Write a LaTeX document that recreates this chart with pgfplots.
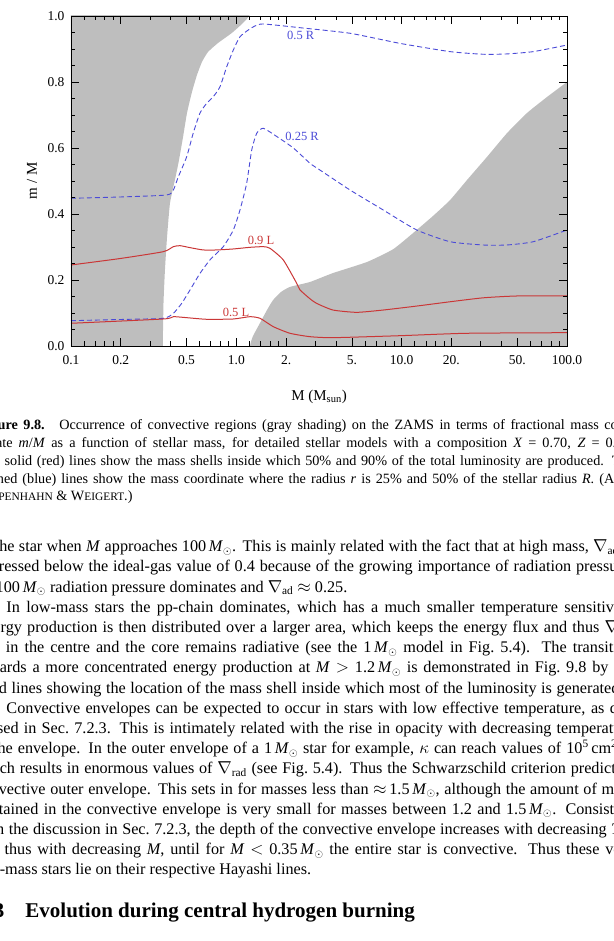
\documentclass[border=0pt]{standalone}
\usepackage{fontspec}
\setmainfont{Liberation Serif}
\usepackage{pgfplots}
\pgfplotsset{compat=1.18}
\definecolor{cgray}{RGB}{190,190,190}
\definecolor{cred}{RGB}{202,55,55}
\definecolor{cblue}{RGB}{75,75,215}
\newcommand{\Msun}{\textit{M}$_{\odot}$}
\newcommand{\fsc}[1]{{\fontsize{11.4}{12}\selectfont #1}}
\newcommand{\Lm}{-24.5}
\newcommand{\Wd}{658.5pt}
\newcommand{\bl}[2]{\node[anchor=base west,inner sep=0pt,outer sep=0pt,font=\fontsize{16.2}{20}\selectfont] at (\Lm,{941-#1}) {\makebox[\Wd][s]{#2}};}
\newcommand{\bn}[2]{\node[anchor=base west,inner sep=0pt,outer sep=0pt,font=\fontsize{16.2}{20}\selectfont] at (\Lm,{941-#1}) {#2};}
\newcommand{\cl}[2]{\node[anchor=base west,inner sep=0pt,outer sep=0pt,font=\fontsize{14.2}{17}\selectfont] at (-22,{941-#1}) {\makebox[656pt][s]{#2}};}
\newcommand{\cn}[2]{\node[anchor=base west,inner sep=0pt,outer sep=0pt,font=\fontsize{14.2}{17}\selectfont] at (-22,{941-#1}) {#2};}
\begin{document}
\begin{tikzpicture}[x=1pt,y=1pt]
\useasboundingbox (0,0) rectangle (613,941);
\clip (0,0) rectangle (613,941);
\begin{axis}[
  at={(71pt,595pt)}, anchor=south west,
  width=496pt, height=330pt, scale only axis,
  xmode=log, xmin=0.1, xmax=100, ymin=0, ymax=1,
  axis on top,
  xtick={0.1,0.2,0.5,1,2,5,10,20,50,100},
  xticklabels={0.1,0.2,0.5,1.0,2.,5.,10.0,20.,50.,100.0},
  minor xtick={0.12,0.14,0.16,0.18,0.3,0.4,0.6,0.7,0.8,0.9,1.2,1.4,1.6,1.8,3,4,6,7,8,9,12,14,16,18,30,40,60,70,80,90},
  ytick={0,0.2,0.4,0.6,0.8,1.0},
  yticklabels={0.0,0.2,0.4,0.6,0.8,1.0},
  minor y tick num=3,
  tick align=inside,
  major tick length=8pt, minor tick length=4.5pt,
  every tick/.style={black, line width=0.6pt},
  axis line style={line width=0.8pt},
  ticklabel style={font=\fontsize{13.5}{14}\selectfont},
  xticklabel style={yshift=-6pt},
  yticklabel style={xshift=-3pt},
]
\addplot[fill=cgray, draw=none, smooth, tension=0.3] coordinates {
(0.05,-0.1) (0.05,1.1) (1.35,1.1) (1.193,1) (0.955,0.9515) (0.7745,0.918) (0.674,0.891) (0.620,0.861) (0.578,0.8212) (0.539,0.7697) (0.503,0.706) (0.476,0.633) (0.450,0.5636) (0.429,0.512) (0.397,0.433) (0.381,0.330) (0.370,0.230) (0.3626,0.130) (0.359,0) (0.357,-0.1)
} -- cycle;
\addplot[fill=cgray, draw=none, smooth, tension=0.3] coordinates {
(1.17,-0.1) (1.21,0) (1.262,0.0303) (1.391,0.0697) (1.533,0.109) (1.667,0.139) (1.863,0.1636) (2.111,0.179) (2.790,0.194) (3.843,0.221) (6.172,0.2545) (8.864,0.293) (11.71,0.342) (15.47,0.394) (19.61,0.442) (24.85,0.503) (32.82,0.573) (43.36,0.645) (57.30,0.706) (75.70,0.7545) (100,0.8) (130,0.84) (200,0.9) (200,-0.1)
} -- cycle;
\addplot[cblue, line width=0.9pt, dash pattern=on 5pt off 3pt, smooth, tension=0.35] coordinates {
(0.1,0.4476) (0.198,0.4515) (0.379,0.4576) (0.416,0.4727) (0.446,0.513) (0.501,0.5736) (0.549,0.6455) (0.603,0.706) (0.662,0.7355) (0.726,0.7555) (0.797,0.7858) (0.875,0.8464) (0.959,0.897) (1.052,0.937) (1.182,0.9576) (1.297,0.9697) (1.456,0.9758) (2.427,0.9645) (4.871,0.9476) (9.77,0.917) (19.61,0.892) (31.17,0.884) (43.18,0.885) (62.57,0.892) (100,0.912)
};
\addplot[cblue, line width=0.9pt, dash pattern=on 5pt off 3pt, smooth, tension=0.35] coordinates {
(0.1,0.0767) (0.198,0.0803) (0.3615,0.0839) (0.416,0.099) (0.467,0.129) (0.525,0.170) (0.603,0.220) (0.693,0.261) (0.834,0.301) (0.959,0.3515) (1.052,0.412) (1.155,0.493) (1.239,0.594) (1.328,0.6445) (1.456,0.6597) (1.754,0.635) (2.212,0.600) (2.790,0.5536) (3.207,0.533) (4.871,0.4727) (7.745,0.412) (12.33,0.3515) (19.61,0.316) (31.17,0.306) (43.18,0.306) (62.57,0.316) (100,0.3515)
};
\addplot[cred, line width=1pt, smooth, tension=0.35] coordinates {
(0.1,0.2455) (0.198,0.265) (0.3615,0.2858) (0.416,0.301) (0.456,0.304) (0.525,0.298) (0.631,0.291) (0.761,0.291) (0.959,0.294) (1.209,0.299) (1.456,0.301) (1.598,0.296) (1.924,0.2606) (2.318,0.19) (2.427,0.170) (2.79,0.143) (3.063,0.129) (3.843,0.109) (5.346,0.102) (7.745,0.109) (12.33,0.121) (19.61,0.134) (31.17,0.146) (49.64,0.1515) (100,0.1515)
};
\addplot[cred, line width=1pt, smooth, tension=0.35] coordinates {
(0.1,0.0688) (0.3615,0.0818) (0.416,0.0888) (0.501,0.0858) (0.662,0.0809) (0.959,0.0818) (1.209,0.0888) (1.391,0.0839) (1.674,0.0585) (2.111,0.0385) (2.79,0.0282) (3.843,0.0252) (9.77,0.0312) (24.74,0.0385) (100,0.0403)
};
\node[cblue, font=\fontsize{12.5}{13}\selectfont] at (axis cs:2.45,0.942) {0.5 R};
\node[cblue, font=\fontsize{12.5}{13}\selectfont] at (axis cs:2.50,0.636) {0.25 R};
\node[cred, font=\fontsize{12.5}{13}\selectfont] at (axis cs:1.410,0.321) {0.9 L};
\node[cred, font=\fontsize{12.5}{13}\selectfont] at (axis cs:0.995,0.103) {0.5 L};
\end{axis}
\node[font=\fontsize{15}{16}\selectfont] at (319,{941-397}) {M (M\textsubscript{sun})};
\node[font=\fontsize{15}{16}\selectfont, rotate=90] at (32,{941-181}) {m / M};
% caption
\cl{430}{\textbf{Figure 9.8.}\hspace{4pt} Occurrence of convective regions (gray shading) on the ZAMS in terms of fractional mass coor-}
\cl{447.7}{dinate \textit{m}/\textit{M} as a function of stellar mass, for detailed stellar models with a composition \textit{X}~=~0.70, \textit{Z}~=~0.02.}
\cl{465.4}{The solid (red) lines show the mass shells inside which 50\% and 90\% of the total luminosity are produced. The}
\cl{483.1}{dashed (blue) lines show the mass coordinate where the radius \textit{r} is 25\% and 50\% of the stellar radius \textit{R}. (After}
\cn{500.8}{K\fsc{IPPENHAHN} \& W\fsc{EIGERT}.)}
% body
\bl{551.7}{of\kern1.5pt\ the star when \textit{M} approaches 100\,\Msun. This is mainly related with the fact that at high mass, $\nabla$\textsubscript{ad} is}
\bl{571.9}{depressed below the ideal-gas value of 0.4 because of the growing importance of radiation pressure.}
\bn{592.1}{At 100\,\Msun\ radiation pressure dominates and $\nabla$\textsubscript{ad} $\approx$ 0.25.}
\bl{612.3}{\kern31pt In low-mass stars the pp-chain dominates, which has a much smaller temperature sensitivity.}
\bl{632.5}{Energy production is then distributed over a larger area, which keeps the energy flux and thus $\nabla$\textsubscript{rad}}
\bl{652.7}{low in the centre and the core remains radiative (see the 1\,\Msun\ model in Fig.~5.4). The transition}
\bl{672.9}{towards a more concentrated energy production at \textit{M} $>$ 1.2\,\Msun\ is demonstrated in Fig.~9.8 by the}
\node[anchor=base west,inner sep=0pt,outer sep=0pt,font=\fontsize{16.2}{20}\selectfont] at (\Lm,{941-693.1}) {\makebox[648pt][s]{solid lines showing the location of the mass shell inside which most of the luminosity is generated.}};
\bl{713.3}{\kern31pt Convective envelopes can be expected to occur in stars with low effective temperature, as dis-}
\bl{733.5}{cussed in Sec.~7.2.3. This is intimately related with the rise in opacity with decreasing temperature}
\bl{753.7}{in the envelope. In the outer envelope of a 1\,\Msun\ star for example, $\kappa$ can reach values of 10\textsuperscript{5}\,cm\textsuperscript{2}/g,}
\bl{773.9}{which results in enormous values of $\nabla$\textsubscript{rad} (see Fig.~5.4). Thus the Schwarzschild criterion predicts a}
\bl{794.1}{convective outer envelope. This sets in for masses less than $\approx$\,1.5\,\Msun, although the amount of mass}
\bl{814.3}{contained in the convective envelope is very small for masses between 1.2 and 1.5\,\Msun. Consistent}
\bl{834.5}{with the discussion in Sec.~7.2.3, the depth of the convective envelope increases with decreasing \textit{T}\textsubscript{eff}}
\bl{854.7}{and thus with decreasing \textit{M}, until for \textit{M} $<$ 0.35\,\Msun\ the entire star is convective. Thus these very}
\bn{874.9}{low-mass stars lie on their respective Hayashi lines.}
\node[anchor=base west,inner sep=0pt,font=\fontsize{21}{25}\selectfont\bfseries] at (-22,{941-918}) {9.3\hspace{21pt}Evolution during central hydrogen burning};
\end{tikzpicture}
\end{document}
